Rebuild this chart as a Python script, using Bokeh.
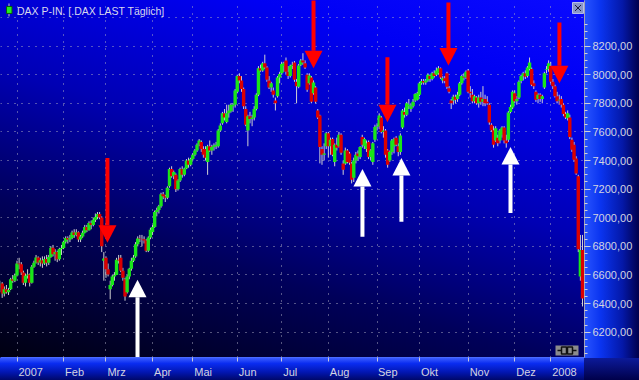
from bokeh.plotting import figure
from bokeh.models import FixedTicker, Range1d, Label, ColumnDataSource
from bokeh.embed import file_html
from bokeh.resources import INLINE

# ---------------- data: daily DAX candles (open, high, low, close) ----------------
dec06 = [(6510, 6560, 6480, 6540), (6540, 6550, 6440, 6470), (6470, 6520, 6450, 6500), (6500, 6530, 6470, 6480),
         (6480, 6510, 6460, 6495), (6500, 6580, 6495, 6570), (6570, 6600, 6545, 6560), (6560, 6610, 6550, 6596)]
jan07 = [(6596, 6700, 6590, 6681), (6681, 6720, 6640, 6675), (6675, 6690, 6600, 6617), (6617, 6630, 6530, 6545),
         (6545, 6610, 6520, 6595), (6595, 6640, 6575, 6603), (6603, 6610, 6520, 6545), (6545, 6670, 6540, 6658),
         (6658, 6700, 6650, 6686), (6686, 6740, 6680, 6722), (6722, 6730, 6670, 6688), (6688, 6720, 6660, 6703),
         (6703, 6730, 6650, 6680), (6680, 6730, 6670, 6712), (6712, 6740, 6660, 6686), (6686, 6740, 6670, 6725),
         (6725, 6800, 6720, 6790), (6790, 6810, 6730, 6745), (6745, 6780, 6700, 6761), (6761, 6770, 6690, 6710),
         (6710, 6790, 6700, 6782), (6782, 6810, 6740, 6789)]
feb07 = [(6789, 6840, 6780, 6833), (6833, 6870, 6820, 6858), (6858, 6870, 6820, 6848), (6848, 6880, 6830, 6859),
         (6859, 6910, 6850, 6897), (6897, 6920, 6860, 6880), (6880, 6920, 6870, 6899), (6899, 6905, 6830, 6848),
         (6848, 6880, 6830, 6869), (6869, 6910, 6860, 6895), (6895, 6950, 6890, 6935), (6935, 6950, 6900, 6912),
         (6912, 6975, 6910, 6963), (6963, 6980, 6920, 6950), (6950, 7000, 6940, 6985), (6985, 7030, 6970, 7005),
         (7005, 7040, 6990, 7026), (7026, 7040, 6990, 7002), (7002, 7010, 6760, 6800), (6700, 6760, 6560, 6715)]
mar07 = [(6720, 6730, 6580, 6640), (6640, 6680, 6590, 6603), (6500, 6560, 6430, 6530), (6530, 6600, 6520, 6590),
         (6590, 6620, 6560, 6600), (6600, 6720, 6600, 6706), (6706, 6740, 6680, 6701), (6720, 6740, 6620, 6630),
         (6630, 6650, 6560, 6580), (6570, 6580, 6420, 6450), (6480, 6600, 6470, 6590), (6590, 6650, 6570, 6643),
         (6643, 6720, 6630, 6700), (6700, 6740, 6690, 6722), (6730, 6830, 6720, 6815), (6815, 6870, 6800, 6855),
         (6855, 6880, 6830, 6851), (6851, 6880, 6800, 6850), (6850, 6870, 6820, 6841), (6841, 6850, 6760, 6769),
         (6769, 6870, 6760, 6862), (6862, 6930, 6850, 6917)]
apr07 = [(6900, 6950, 6880, 6935), (6935, 7050, 6930, 7040), (7040, 7070, 7010, 7055), (7055, 7090, 7030, 7080),
         (7080, 7175, 7070, 7165), (7165, 7180, 7130, 7150), (7150, 7160, 7110, 7140), (7140, 7220, 7130, 7210),
         (7220, 7350, 7210, 7340), (7340, 7360, 7280, 7290), (7290, 7330, 7270, 7320), (7300, 7310, 7180, 7200),
         (7200, 7270, 7190, 7260), (7260, 7350, 7250, 7340), (7340, 7360, 7280, 7300), (7300, 7350, 7290, 7345),
         (7345, 7410, 7340, 7400), (7400, 7420, 7350, 7370), (7370, 7420, 7360, 7410)]
may07 = [(7410, 7450, 7400, 7440), (7440, 7480, 7430, 7470), (7470, 7520, 7460, 7510), (7510, 7550, 7500, 7540),
         (7530, 7540, 7460, 7480), (7480, 7500, 7420, 7440), (7480, 7500, 7400, 7420), (7390, 7510, 7300, 7500),
         (7500, 7540, 7460, 7470), (7470, 7510, 7440, 7495), (7495, 7520, 7470, 7505), (7500, 7530, 7480, 7510),
         (7500, 7620, 7490, 7610), (7610, 7660, 7600, 7645), (7660, 7740, 7650, 7730), (7730, 7760, 7680, 7700),
         (7670, 7790, 7660, 7730), (7730, 7790, 7700, 7750), (7745, 7800, 7735, 7790), (7780, 7800, 7740, 7790),
         (7790, 7900, 7770, 7890)]
jun07 = [(7880, 8000, 7870, 7990), (7990, 8010, 7940, 7960), (7960, 7990, 7880, 7900), (7900, 7910, 7760, 7780),
         (7760, 7780, 7640, 7650), (7610, 7720, 7500, 7710), (7710, 7740, 7660, 7690), (7690, 7720, 7640, 7700),
         (7700, 7780, 7680, 7760), (7760, 7870, 7750, 7860), (7860, 8060, 7850, 8045), (8045, 8070, 8020, 8030),
         (8030, 8090, 8020, 8080), (8080, 8140, 8040, 8050), (8050, 8060, 7950, 7965), (7960, 7990, 7900, 7910),
         (7910, 7950, 7880, 7940), (7890, 7910, 7840, 7860), (7820, 7840, 7750, 7800), (7850, 7990, 7840, 7980),
         (7980, 8020, 7940, 8005)]
jul07 = [(8010, 8090, 8000, 8075), (8060, 8090, 8020, 8080), (8100, 8120, 8000, 8020), (8020, 8060, 7970, 7990),
         (7990, 8070, 7980, 8060), (8060, 8090, 8040, 8070), (8085, 8095, 7950, 7965), (7950, 7970, 7800, 7920),
         (7915, 8075, 7905, 8065), (8070, 8110, 8060, 8100), (8100, 8150, 8070, 8085), (8080, 8100, 8040, 8050),
         (8000, 8010, 7880, 7895), (7940, 8010, 7930, 7995), (7980, 7990, 7800, 7810), (7870, 7960, 7860, 7945),
         (7910, 7920, 7800, 7810), (7750, 7760, 7690, 7700), (7715, 7720, 7380, 7495), (7480, 7500, 7370, 7440),
         (7440, 7520, 7400, 7450), (7500, 7600, 7480, 7590)]
aug07 = [(7590, 7600, 7420, 7500), (7500, 7560, 7440, 7545), (7550, 7560, 7430, 7440), (7390, 7520, 7360, 7510),
         (7510, 7560, 7470, 7490), (7500, 7600, 7490, 7580), (7580, 7590, 7440, 7455), (7380, 7400, 7300, 7335),
         (7380, 7490, 7370, 7470), (7470, 7480, 7380, 7390), (7450, 7460, 7370, 7385), (7380, 7390, 7240, 7265),
         (7280, 7420, 7250, 7400), (7400, 7460, 7380, 7440), (7450, 7470, 7400, 7430), (7425, 7500, 7410, 7494),
         (7565, 7580, 7490, 7510), (7500, 7560, 7480, 7550), (7480, 7540, 7460, 7520), (7530, 7540, 7410, 7425),
         (7425, 7480, 7400, 7470), (7390, 7530, 7370, 7520), (7545, 7650, 7530, 7635)]
sep07 = [(7635, 7660, 7610, 7640), (7640, 7730, 7620, 7715), (7700, 7710, 7590, 7600), (7600, 7640, 7560, 7610),
         (7610, 7620, 7420, 7440), (7470, 7480, 7350, 7370), (7400, 7470, 7390, 7460), (7460, 7550, 7440, 7540),
         (7500, 7560, 7450, 7550), (7560, 7570, 7500, 7510), (7500, 7520, 7430, 7460), (7460, 7590, 7440, 7575),
         (7630, 7760, 7620, 7750), (7740, 7770, 7700, 7720), (7720, 7810, 7710, 7800), (7780, 7830, 7760, 7790),
         (7760, 7800, 7740, 7780), (7780, 7830, 7770, 7810), (7820, 7870, 7810, 7865), (7825, 7880, 7820, 7870)]
oct07 = [(7860, 7950, 7850, 7940), (7940, 7970, 7930, 7955), (7955, 7970, 7930, 7945), (7945, 7970, 7930, 7960),
         (7960, 8010, 7950, 8000), (7990, 8000, 7950, 7970), (7970, 8020, 7960, 8010), (8010, 8030, 7980, 7990),
         (8000, 8050, 7990, 8030), (8010, 8060, 8000, 8045), (8045, 8050, 7970, 7980), (7960, 7990, 7940, 7975),
         (7975, 7990, 7940, 7955), (8010, 8020, 7900, 7915), (7905, 7920, 7870, 7880), (7820, 7830, 7760, 7800),
         (7820, 7860, 7790, 7845), (7845, 7860, 7800, 7825), (7830, 7880, 7810, 7860), (7860, 7950, 7850, 7940),
         (7940, 8000, 7930, 7990), (7985, 8010, 7960, 7980), (7980, 8030, 7970, 8020)]
nov07 = [(8030, 8040, 7870, 7880), (7880, 7920, 7840, 7870), (7860, 7900, 7800, 7815), (7815, 7860, 7800, 7850),
         (7840, 7850, 7790, 7800), (7800, 7860, 7770, 7840), (7840, 7880, 7790, 7810), (7810, 7920, 7780, 7830),
         (7830, 7860, 7780, 7800), (7810, 7850, 7790, 7800), (7790, 7800, 7650, 7665), (7650, 7660, 7600, 7612),
         (7612, 7640, 7490, 7510), (7540, 7640, 7530, 7625), (7560, 7580, 7500, 7520), (7540, 7620, 7520, 7610),
         (7580, 7640, 7560, 7630), (7630, 7640, 7520, 7540), (7540, 7580, 7490, 7520), (7545, 7745, 7530, 7735),
         (7740, 7790, 7730, 7775), (7770, 7890, 7760, 7880)]
dec07 = [(7870, 7890, 7800, 7815), (7815, 7850, 7790, 7830), (7840, 7960, 7830, 7950), (7955, 8000, 7940, 7990),
         (7990, 8020, 7960, 8010), (8010, 8030, 7970, 7985), (7990, 8060, 7980, 8050), (8040, 8120, 8030, 8085),
         (8040, 8050, 7920, 7930), (7940, 7960, 7900, 7920), (7880, 7890, 7810, 7825), (7830, 7870, 7800, 7860),
         (7860, 7870, 7810, 7830), (7830, 7860, 7800, 7850), (7910, 8020, 7900, 8010), (8035, 8060, 8010, 8040),
         (8040, 8100, 8020, 8080)]
jan08 = [(8060, 8090, 7940, 7950), (7950, 7970, 7900, 7920), (7920, 7930, 7840, 7850), (7850, 7880, 7800, 7815),
         (7820, 7860, 7790, 7825), (7830, 7850, 7770, 7790), (7790, 7800, 7710, 7725), (7725, 7740, 7690, 7700),
         (7695, 7750, 7680, 7730), (7700, 7720, 7550, 7565), (7545, 7560, 7460, 7475), (7510, 7530, 7390, 7405),
         (7415, 7430, 7300, 7310), (7290, 7300, 6760, 6780), (6590, 6880, 6560, 6775), (6775, 6880, 6380, 6435)]

month_labels = ["2007", "Feb", "Mrz", "Apr", "Mai", "Jun", "Jul", "Aug", "Sep", "Okt", "Nov", "Dez", "2008"]
price_labels = [6200, 6400, 6600, 6800, 7000, 7200, 7400, 7600, 7800, 8000, 8200]
grid_prices = [6200, 6400, 6600, 6800, 7000, 7200, 7400, 7600, 7800, 8000, 8200, 8400]

# arrows: trading-day index, tip price, tail price
red_arrow_day = [42.7, 140.0, 174.9, 203.7, 256.1]
red_arrow_tip = [6825, 8045, 7668, 8065, 7940]
red_arrow_tail = [7417, 8600, 8121, 8505, 8365]
white_arrow_day = [56.9, 163.1, 181.5, 233.0]
white_arrow_tip = [6567, 7341, 7417, 7494]
white_arrow_tail = [5900, 6867, 6972, 7034]

title_text = "DAX P-IN. [.DAX LAST Täglich]"

# ---------------- geometry ----------------
W, H = 639, 380
FRAME_W, FRAME_H = 584, 358
PX_PER_DAY = 2.118
X0_PX = 16.5            # pixel of first 2007 trading day
REF_PRICE, REF_PX = 8200, 45.7
PTS_PER_PX = 6.97

x_lo = -X0_PX / PX_PER_DAY
x_hi = x_lo + FRAME_W / PX_PER_DAY
y_hi = REF_PRICE + REF_PX * PTS_PER_PX
y_lo = y_hi - FRAME_H * PTS_PER_PX


def px_x(px):
    return x_lo + px / PX_PER_DAY


def px_y(py):
    return y_hi - py * PTS_PER_PX


months_2007 = [jan07, feb07, mar07, apr07, may07, jun07, jul07, aug07, sep07, oct07, nov07, dec07, jan08]
rows = dec06 + [r for m in months_2007 for r in m]
first = -len(dec06)
days = list(range(first, first + len(rows)))
opens = [r[0] for r in rows]
highs = [r[1] for r in rows]
lows = [r[2] for r in rows]
closes = [r[3] for r in rows]

month_start = []
acc = 0
for m in months_2007:
    month_start.append(acc)
    acc += len(m)

GREEN, RED = "#19e619", "#dc0000"
src = ColumnDataSource(dict(
    x=days, o=opens, h=highs, l=lows, c=closes,
    top=[max(o, c) for o, c in zip(opens, closes)],
    bottom=[min(o, c) for o, c in zip(opens, closes)],
    color=[GREEN if c >= o else RED for o, c in zip(opens, closes)],
))

p = figure(width=W, height=H, output_backend="svg", toolbar_location=None,
           x_range=Range1d(x_lo, x_hi), y_range=Range1d(y_lo, y_hi),
           y_axis_location="right", min_border_left=0, min_border_top=0,
           min_border_right=W - FRAME_W, min_border_bottom=H - FRAME_H)
p.background_fill_color = None
p.border_fill_color = None
p.outline_line_color = None
p.styles = {
    "background":
        "linear-gradient(90deg, #2a55ff 0%, #0a34f0 30%, #0418a8 70%, #00004c 100%) 584px 0px / 55px 358px no-repeat,"
        "linear-gradient(180deg, #0c1a9a 0%, #00004a 100%) 584px 358px / 55px 22px no-repeat,"
        "linear-gradient(180deg, #3a5cff 0%, #0a2cf0 25%, #0216b0 65%, #00086a 100%) 0px 358px / 584px 22px no-repeat,"
        "linear-gradient(196deg, #0a0aff 0%, #0000f4 18%, #0000b4 45%, #00005a 70%, #000010 100%) 0px 0px / 584px 358px no-repeat"
}

# grid
p.xgrid.ticker = FixedTicker(ticks=month_start)
p.ygrid.ticker = FixedTicker(ticks=grid_prices)
for g in (p.xgrid, p.ygrid):
    g.grid_line_color = "#a8a8c0"
    g.grid_line_dash = "1 6"
    g.grid_line_width = 1

# candles
p.segment(x0="x", y0="h", x1="x", y1="l", source=src, line_color="#d2d2d2", line_width=1)
p.vbar(x="x", width=1.6, top="top", bottom="bottom", source=src, fill_color="color", line_color=None)

# arrows
HW = 9.0 / PX_PER_DAY
HH = 17.5 * PTS_PER_PX
p.segment(x0=red_arrow_day, y0=red_arrow_tail, x1=red_arrow_day, y1=[t + HH for t in red_arrow_tip],
          line_color="#ff0000", line_width=4)
p.patches(xs=[[d - HW, d + HW, d] for d in red_arrow_day],
          ys=[[t + HH, t + HH, t] for t in red_arrow_tip], fill_color="#ff0000", line_color=None)
p.segment(x0=white_arrow_day, y0=white_arrow_tail, x1=white_arrow_day, y1=[t - HH for t in white_arrow_tip],
          line_color="#ffffff", line_width=4)
p.patches(xs=[[d - HW, d + HW, d] for d in white_arrow_day],
          ys=[[t - HH, t - HH, t] for t in white_arrow_tip], fill_color="#ffffff", line_color=None)

# chrome: title icon, title, close box, connection icon
p.segment(x0=[px_x(8.5)], y0=[px_y(3)], x1=[px_x(8.5)], y1=[px_y(16)], line_color="#c8c8c8", line_width=1)
p.quad(left=[px_x(6)], right=[px_x(11.5)], top=[px_y(6)], bottom=[px_y(13)],
       fill_color="#22ee22", line_color="#0a5a0a", line_width=1)
p.add_layout(Label(x=px_x(16.5), y=px_y(10.5), text=title_text, text_font="Liberation Sans",
                   text_font_size="10.5px", text_color="#d8d8ec", text_baseline="middle"))
p.quad(left=[px_x(572)], right=[px_x(583)], top=[px_y(2)], bottom=[px_y(13)],
       fill_color="#8a96c8", line_color="#b8c0e8", line_width=1)
p.segment(x0=[px_x(574.5), px_x(574.5)], y0=[px_y(4.5), px_y(10.5)],
          x1=[px_x(580.5), px_x(580.5)], y1=[px_y(10.5), px_y(4.5)], line_color="#1a1a3a", line_width=1)
p.quad(left=[px_x(555)], right=[px_x(578)], top=[px_y(346)], bottom=[px_y(356)],
       fill_color="#8c8c8c", line_color=None)
p.segment(x0=[px_x(557)], y0=[px_y(351)], x1=[px_x(576)], y1=[px_y(351)], line_color="#101010", line_width=1.5)
p.quad(left=[px_x(561), px_x(567)], right=[px_x(566), px_x(572)], top=[px_y(347.5), px_y(347.5)],
       bottom=[px_y(354.5), px_y(354.5)], fill_color="#8c8c8c", line_color="#101010", line_width=1.5)

# y axis (right)
ya = p.yaxis[0]
ya.ticker = FixedTicker(ticks=price_labels, minor_ticks=list(range(6050, 8400, 50)))
ya.major_label_overrides = {v: f"{v},00" for v in price_labels}
ya.axis_line_color = "#a0a0b4"
ya.major_tick_line_color = "#d0d0dc"
ya.minor_tick_line_color = "#d0d0dc"
ya.major_tick_out = 6
ya.major_tick_in = 0
ya.minor_tick_out = 3
ya.minor_tick_in = 0
ya.major_label_standoff = 2
ya.major_label_text_font = "Liberation Sans"
ya.major_label_text_font_size = "11px"
ya.major_label_text_color = "#d4d4e0"

# x axis (below): labels sit just right of the month tick
CHAR_W = {"M": 0.833, "r": 0.333, "z": 0.5, "A": 0.667, "i": 0.222, "J": 0.5, "l": 0.222,
          "O": 0.778, "k": 0.5, "t": 0.278, "N": 0.722, "v": 0.5, "D": 0.722, "F": 0.611}
label_pos = []
for s, lbl in zip(month_start, month_labels):
    wpx = 11 * sum(CHAR_W.get(ch, 0.556) for ch in lbl)
    label_pos.append(s + (1.5 + wpx / 2) / PX_PER_DAY)
xa = p.xaxis[0]
xa.ticker = FixedTicker(ticks=label_pos, minor_ticks=month_start)
xa.major_label_overrides = {pos: lbl for pos, lbl in zip(label_pos, month_labels)}
xa.axis_line_color = "#4a6aff"
xa.major_tick_line_color = None
xa.major_tick_out = 3
xa.minor_tick_out = 4
xa.minor_tick_in = 0
xa.minor_tick_line_color = "#c8c8dc"
xa.major_label_standoff = 4
xa.major_label_text_font = "Liberation Sans"
xa.major_label_text_font_size = "11px"
xa.major_label_text_color = "#d4d4e0"

open("out.html", "w").write(file_html(p, INLINE))
